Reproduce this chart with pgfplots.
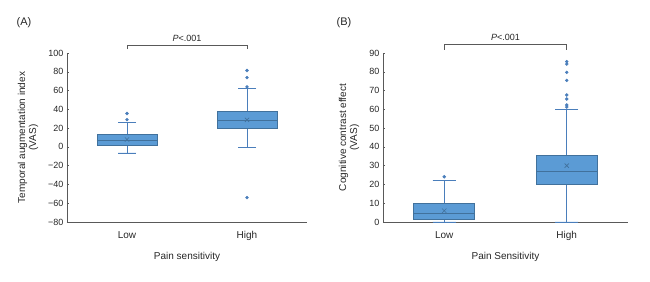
\documentclass[border=0pt]{standalone}
\usepackage{fontspec}
\setmainfont{Liberation Sans}
\usepackage{pgfplots}
\pgfplotsset{compat=1.18}
\usepgfplotslibrary{statistics}
\definecolor{boxfill}{HTML}{5B9BD5}
\definecolor{boxedge}{HTML}{41719C}
\definecolor{whisk}{HTML}{4A7EBB}
\definecolor{axisgray}{HTML}{595959}
\definecolor{txt}{HTML}{262626}
\pgfplotsset{
  common/.style={
    scale only axis, height=169pt,
    axis lines=left, axis line style={-, axisgray, line width=0.7pt},
    xmin=-0.5, xmax=1.5, xtick={0,1}, xticklabels={Low,High},
    xtick style={draw=none}, ytick style={axisgray, line width=0.5pt},
    tick align=inside, major tick length=2pt,
    x tick label style={font=\fontsize{10}{12}\selectfont, text=txt, yshift=-6pt},
    y tick label style={font=\fontsize{9}{11}\selectfont, text=txt},
    every axis x label/.style={at={(axis description cs:0.5,0)}, anchor=center, yshift=-34.5pt, font=\fontsize{10}{12}\selectfont, text=txt},
    clip=false,
    boxplot/draw direction=y,
  },
  mybox/.style={solid, draw=whisk, fill=boxfill, line width=0.6pt,
    mark=*, mark size=1.4pt, mark options={fill=whisk, draw=whisk},
    boxplot/every median/.style={draw=boxedge, line width=0.8pt},
    boxplot/every box/.style={draw=boxedge, line width=0.8pt, fill=boxfill},
  },
  meanmark/.style={only marks, mark=x, mark size=3pt, mark options={draw=boxedge, line width=0.6pt}},
}
\begin{document}
\begin{tikzpicture}
\path[use as bounding box] (0,0) rectangle (650pt,281pt);
\node[font=\fontsize{11}{13}\selectfont, text=txt] at (24pt,258pt) {(A)};
\node[font=\fontsize{11}{13}\selectfont, text=txt] at (344pt,258pt) {(B)};
\begin{axis}[common, at={(67pt,59pt)}, anchor=south west, width=240pt,
  ymin=-80, ymax=100, ytick={-80,-60,...,100},
  yticklabels={−80,−60,−40,−20,0,20,40,60,80,100},
  boxplot/box extend=0.5, boxplot/whisker extend=0.15,
  xlabel={Pain sensitivity},
  every axis y label/.style={at={(axis description cs:-0.1625,0.5)}, rotate=90, anchor=center, align=center, font=\fontsize{10}{11}\selectfont, text=txt},
  ylabel={Temporal augmentation index\\(VAS)}]
\addplot+[mybox, boxplot prepared={draw position=0, lower whisker=-6.4, lower quartile=2.1, median=7.1, upper quartile=12.8, upper whisker=26.3}] coordinates {(0,29) (0,35.5)};
\addplot+[mybox, boxplot prepared={draw position=1, lower whisker=-0.4, lower quartile=19.9, median=28.4, upper quartile=37.6, upper whisker=62.5}] coordinates {(1,63.9) (1,73.8) (1,81.3) (1,-54)};
\addplot[meanmark] coordinates {(0,7.8) (1,28.8)};
\draw[axisgray, line width=0.6pt] (axis cs:0,104) -- (axis cs:0,108) -- (axis cs:1,108) -- (axis cs:1,104);
\node[font=\fontsize{9}{11}\selectfont, text=txt] at (axis cs:0.5,115.5) {\textit{P}<.001};
\end{axis}
\begin{axis}[common, at={(383pt,59pt)}, anchor=south west, width=245pt,
  ymin=0, ymax=90, ytick={0,10,...,90},
  boxplot/box extend=0.5, boxplot/whisker extend=0.19,
  xlabel={Pain Sensitivity},
  every axis y label/.style={at={(axis description cs:-0.139,0.5)}, rotate=90, anchor=center, align=center, font=\fontsize{10}{11}\selectfont, text=txt},
  ylabel={Cognitive contrast effect\\(VAS)},
  /pgf/number format/assume math mode=true]
\addplot+[mybox, boxplot prepared={draw position=0, lower whisker=0, lower quartile=1.4, median=4.8, upper quartile=9.9, upper whisker=22}] coordinates {(0,24.1)};
\addplot+[mybox, boxplot prepared={draw position=1, lower whisker=0, lower quartile=19.9, median=27.0, upper quartile=35.7, upper whisker=59.8}] coordinates {(1,85.4) (1,84.1) (1,79.7) (1,75.4) (1,67.6) (1,65.5) (1,62.3) (1,61.2)};
\addplot[meanmark] coordinates {(0,6.0) (1,30.0)};
\draw[axisgray, line width=0.6pt] (axis cs:0,91.8) -- (axis cs:0,94.6) -- (axis cs:1,94.6) -- (axis cs:1,91.8);
\node[font=\fontsize{9}{11}\selectfont, text=txt] at (axis cs:0.5,98.5) {\textit{P}<.001};
\end{axis}
\end{tikzpicture}
\end{document}
